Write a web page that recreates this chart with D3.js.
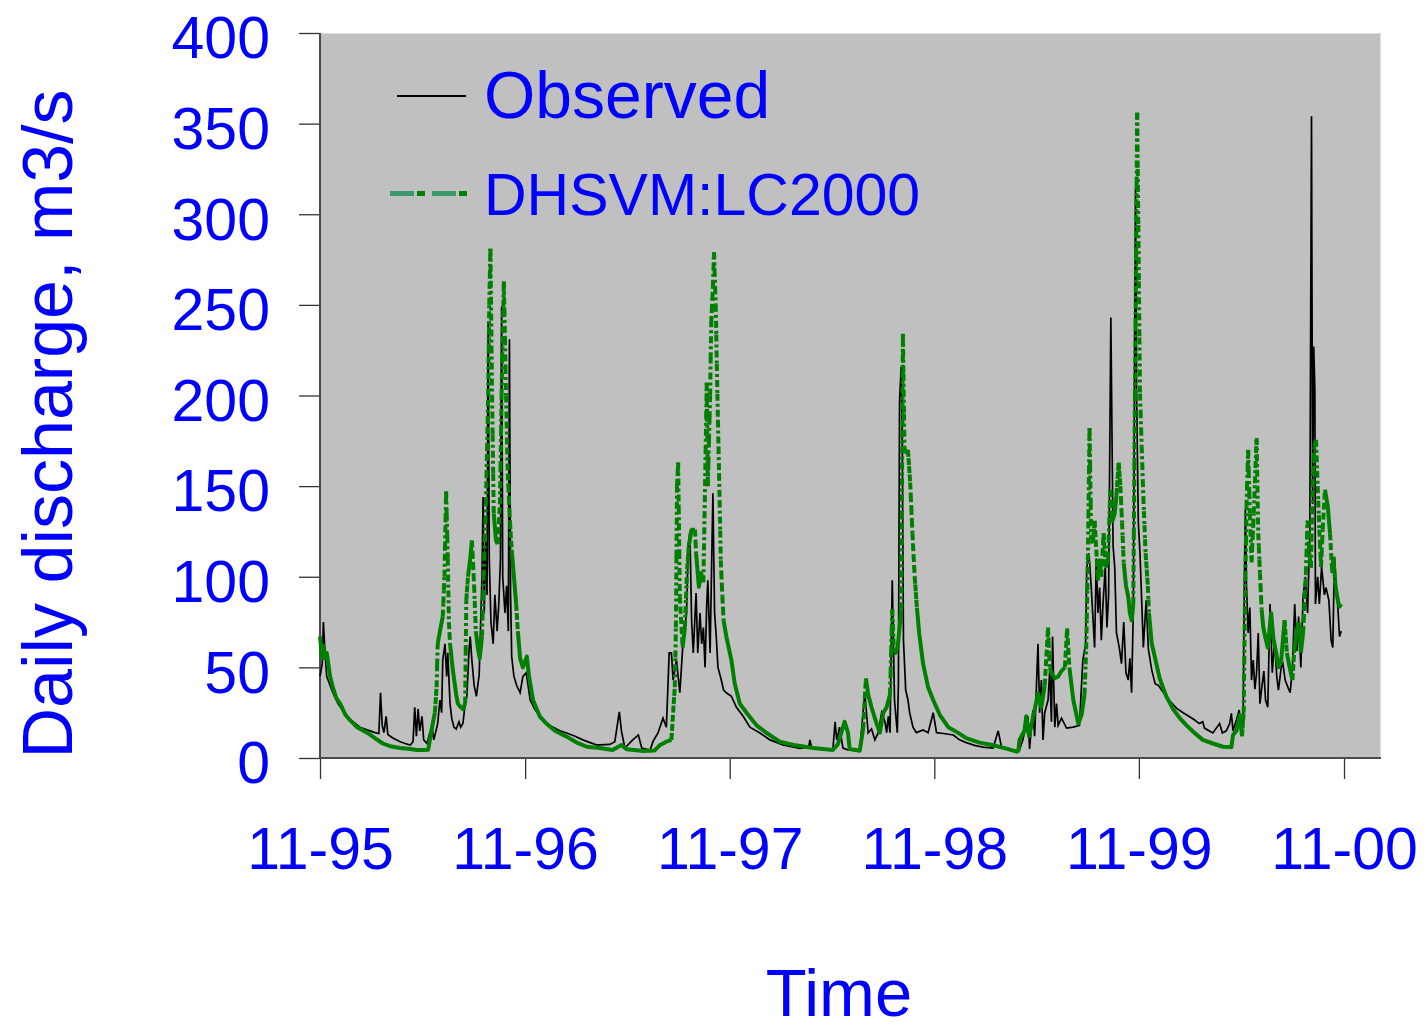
<!DOCTYPE html>
<html>
<head>
<meta charset="utf-8">
<script src="https://cdn.jsdelivr.net/npm/d3@7"></script>
<style>
  html, body { margin: 0; padding: 0; background: #ffffff; }
  svg { display: block; font-family: "Liberation Sans", Arial, sans-serif; }
</style>
</head>
<body>
<svg id="chart" width="1427" height="1032"></svg>
<script>
// Daily discharge, water years 1996-2000
const startDate = "1995-11-01";
const endDate = "2001-01-06";
const xTickDates = ["1995-11-01", "1996-11-01", "1997-11-01", "1998-11-01", "1999-11-01", "2000-11-01"];
const yTickValues = [0, 50, 100, 150, 200, 250, 300, 350, 400];
const seriesNames = ["Observed", "DHSVM:LC2000"];
const axisTitles = ["Time", "Daily discharge, m3/s"];

// [days since 1 Nov 1995, discharge in m3/s]
const observedFlow = [
  [0,45],[4,52],[6,75],[9,58],[12,45],[18,40],[23,36],[32,30],[41,26],[50,22],[59,20],[71,17],[84,15.5],[98,14],[105,13.5],[108,36],[111,18],[114,14],[118,23],[121,13],[130,11],[143,9],[152,8],[161,7.2],[166,9],[169,28],[172,12],[175,27],[178,15],[182,23],[185,10],[191,8],[196,14],[200,17],[203,10],[207,15],[210,19],[214,32],[217,25],[219,54],[223,63],[226,45],[228,58],[232,30],[235,22],[239,17],[243,16],[248,20],[251,17],[255,19],[259,30],[262,34],[266,60],[268,67],[271,54],[275,40],[279,34],[284,46],[286,67],[289,100],[291,144],[293,80],[296,120],[298,90],[300,241],[302,110],[305,75],[309,63],[312,90],[316,70],[319,85],[322,110],[324,249],[326,100],[330,80],[333,95],[336,70],[338,231],[340,90],[342,56],[346,45],[351,40],[357,36],[362,45],[368,47],[375,32],[383,27],[392,23],[403,19],[416,17],[428,15],[440,13.8],[455,12],[469,10],[482,8.5],[494,7.2],
  [499,7.2],[517,7.5],[526,9],[534,25.5],[538,14.5],[544,5.5],[558,10],[568,12.7],[574,5.5],[589,4.4],[594,9],[603,13.8],[612,22],[618,17],[623,58],[627,58],[630,43],[636,54],[642,36],[648,65],[654,80],[657,117],[660,125],[663,76],[666,58],[671,91],[674,58],[678,80],[681,63],[684,72],[687,50],[690,85],[692,98],[696,58],[697,76],[701,146],[704,80],[707,67],[710,50],[716,43],[720,37.5],[725,36],[734,34],[743,28],[755,23],[767,17],[785,13.8],[803,10],[826,7.2],[856,5.3],[872,6],[874,10],[877,6],[904,4.4],[915,4.4],[919,20],[922,10],[927,17],[933,5.5],[942,4.4],[963,4],[972,36],[978,13.8],[984,16],[990,10],[996,14],[1002,25],[1008,20],[1011,14],[1014,23],[1017,14],[1021,98],[1025,32],[1030,14],[1032,41],[1034,197],[1037,216],[1039,168],[1041,65],[1045,37.5],[1049,32],[1052,25],[1058,17],[1064,14],[1076,15.5],[1085,14],[1094,25],[1100,14],[1112,13.5],[1130,12.7],[1141,10],[1153,8.5],[1168,7],[1183,6],[1201,5.5],[1210,15],[1216,6],[1236,3.8],[1248,4.5],
  [1254,10],[1263,23],[1266,5],[1272,26.5],[1275,12],[1278,37.5],[1281,63],[1284,25],[1287,43],[1290,10],[1293,25],[1299,32],[1302,48.5],[1305,20],[1307,67],[1311,17],[1314,30],[1317,18],[1323,22],[1332,16.5],[1344,17],[1355,18],[1361,54],[1366,63],[1368,105],[1372,113],[1376,94.5],[1382,61],[1385,110],[1388,80],[1391,94],[1394,65],[1397,85],[1401,105],[1404,72],[1407,90],[1411,243],[1415,117],[1418,105],[1421,69],[1426,61],[1430,52],[1434,75],[1438,47],[1442,43],[1445,55],[1448,36],[1451,80],[1455,314],[1457,200],[1460,130],[1463,113],[1469,61],[1474,87],[1478,60],[1484,48.5],[1490,41],[1496,40],[1505,36],[1516,31.5],[1528,27.5],[1540,25],[1558,21.5],[1569,19],
  [1575,20],[1578,16.5],[1593,13.8],[1605,19],[1610,13.8],[1617,15],[1623,19],[1626,24.6],[1629,15],[1635,21],[1640,26.5],[1644,15],[1647,21],[1649,91],[1651,137],[1653,95],[1656,69],[1659,83],[1662,43],[1665,54],[1668,38],[1671,47],[1674,69],[1677,30],[1680,38],[1684,48],[1687,32],[1691,28],[1695,85],[1699,47],[1703,65],[1707,45],[1710,37.5],[1715,50],[1718,52],[1722,43],[1727,39],[1731,36],[1735,50],[1739,85],[1743,59],[1746,78],[1750,50],[1754,89],[1758,100],[1762,80],[1766,124],[1769,354],[1771,140],[1773,227],[1775,203],[1776,85],[1780,100],[1783,85],[1787,105.5],[1792,90],[1795,94],[1800,87],[1804,65],[1807,61],[1810,111],[1813,94],[1816,83],[1819,67],[1822,70]
];

const simulatedFlow = [
  [0,67],[4,55],[6,62],[9,55],[12,58],[18,45],[23,39],[29,33],[36,30],[45,24],[53,21],[66,17],[84,14],[98,11],[112,8],[125,6.5],[143,5.5],[161,5],[173,4.4],[187,4.4],[193,4.6],[196,10],[200,17],[205,25],[208,39],[210,63],[214,70],[219,78],[222,100],[225,147],[228,110],[230,75],[232,63],[237,48.5],[243,35],[246,30],[251,28],[255,27],[259,30],[261,87],[264,100],[268,110],[271,120],[275,95],[278,70],[282,60],[285,55],[289,67],[292,100],[296,140],[300,200],[302,250],[304,281],[307,200],[310,135],[314,120],[317,118],[321,140],[325,220],[328,263],[332,200],[335,157],[339,130],[342,115],[346,100],[350,85],[353,70],[357,55],[362,50],[369,56],[373,45],[380,32],[392,23],[404,19],[419,15],[440,11.8],[458,8.5],[476,6.2],[499,5.5],
  [522,4.4],[538,7.2],[547,4.8],[577,3.9],[597,4.2],[606,7],[618,9],[627,10],[630,25],[633,39],[635,72],[637,150],[639,163],[642,89],[647,61],[651,72],[655,104],[658,117],[663,126],[669,126],[671,113],[676,94.5],[680,102],[684,97],[687,150],[690,207],[692,150],[696,200],[698,240],[701,260],[703,279],[706,250],[709,201],[713,142],[715,109],[718,89],[720,76],[725,67],[734,54],[740,41],[749,30],[761,25],[779,18],[797,13.8],[820,9],[845,7.2],[880,5.5],[915,4.4],[924,7.6],[936,20],[942,14],[945,5],[963,4],[969,16],[974,44],[978,35],[984,28],[993,19],[999,14],[1005,25],[1011,28],[1017,35],[1021,82],[1024,58],[1027,58],[1031,62],[1037,82],[1040,234],[1043,168],[1049,170],[1053,152],[1057,124],[1061,100],[1065,83],[1069,69],[1076,52],[1085,39],[1094,32],[1106,23.7],[1121,17],[1138,14],[1153,11],[1177,8.5],[1201,7],[1225,5.2],[1243,3.5],[1246,4],
  [1248,10],[1257,15],[1260,23],[1265,12],[1269,18],[1275,26.5],[1281,35.7],[1287,28],[1293,40],[1299,72],[1302,50],[1305,47],[1311,44],[1317,45],[1323,48],[1329,50],[1333,71.5],[1337,50],[1344,32],[1353,19],[1359,24],[1364,35],[1367,60],[1370,109],[1373,182],[1376,120],[1379,118.6],[1382,131],[1385,115],[1388,98],[1391,110],[1394,100],[1398,124],[1402,105],[1406,110],[1410,148],[1413,130],[1418,135],[1421,145],[1425,163],[1428,150],[1431,130],[1434,107.5],[1438,95],[1442,89],[1445,80],[1448,76],[1451,85],[1454,200],[1458,356],[1463,201],[1466,172],[1469,144],[1473,113],[1477,95],[1479,80],[1484,63],[1490,55],[1498,44],[1510,34],[1522,27],[1534,22],[1546,18],[1558,14.5],[1575,10],[1593,8],[1611,6.2],[1626,6],[1629,12.7],[1635,15],[1641,23.7],[1645,12],[1648,25],[1650,80],[1653,138.6],[1656,170],[1659,135],[1662,108],[1666,135],[1671,176.5],[1674,124],[1677,102],[1680,82],[1683,72],[1687,66],[1691,61],[1697,80],[1701,66],[1706,58],[1710,50],[1715,54],[1721,76],[1725,58],[1730,50],[1735,43],[1738,58],[1742,69],[1746,75],[1750,58],[1754,69],[1759,102],[1762,131],[1765,113],[1768,105],[1771,150],[1774,172],[1777,175.5],[1780,150],[1783,126],[1786,105.5],[1789,126],[1793,148],[1798,139],[1802,124],[1806,102],[1808,111],[1812,94.5],[1816,87],[1819,83.5],[1822,85]
];

// ---- layout ----
const plot = { left: 320, top: 33, right: 1381, bottom: 758 };
const textBlue = "#0000ff";
const fontFamily = "'Liberation Sans', Arial, sans-serif";

const parseDay = d3.timeParse("%Y-%m-%d");
const t0 = parseDay(startDate);
const toDate = d => d3.timeDay.offset(t0, d);

const x = d3.scaleTime()
  .domain([t0, parseDay(endDate)])
  .range([plot.left, plot.right]);
const y = d3.scaleLinear()
  .domain([0, 400])
  .range([plot.bottom, plot.top]);

const svg = d3.select("#chart");

// plot area
svg.append("rect")
  .attr("x", plot.left).attr("y", plot.top)
  .attr("width", plot.right - plot.left).attr("height", plot.bottom - plot.top)
  .attr("fill", "#c0c0c0");
svg.append("path")
  .attr("d", `M${plot.left},${plot.top + 0.5}H${plot.right - 0.5}V${plot.bottom}`)
  .attr("fill", "none").attr("stroke", "#dedede").attr("stroke-width", 1);

// ---- axes ----
const yAxis = d3.axisLeft(y).tickValues(yTickValues).tickSize(21).tickSizeOuter(0).tickPadding(29);
const gy = svg.append("g").attr("transform", `translate(${plot.left},0)`).call(yAxis);
gy.select(".domain").remove();
gy.selectAll(".tick line").attr("stroke", "#333").attr("stroke-width", 1.3);
gy.selectAll(".tick text")
  .attr("fill", textBlue).attr("font-size", 59).attr("font-family", fontFamily)
  .attr("dy", "0.42em");

const xAxis = d3.axisBottom(x)
  .tickValues(xTickDates.map(parseDay))
  .tickFormat(d3.timeFormat("%m-%y"))
  .tickSize(21).tickSizeOuter(0).tickPadding(48);
const gx = svg.append("g").attr("transform", `translate(0,${plot.bottom})`).call(xAxis);
gx.select(".domain").remove();
gx.selectAll(".tick line").attr("stroke", "#333").attr("stroke-width", 1.3);
gx.selectAll(".tick text")
  .attr("fill", textBlue).attr("font-size", 59).attr("font-family", fontFamily);

// axis lines
svg.append("line")
  .attr("x1", plot.left).attr("x2", plot.left).attr("y1", plot.top).attr("y2", plot.bottom + 1)
  .attr("stroke", "#4a4a4a").attr("stroke-width", 2);
svg.append("line")
  .attr("x1", plot.left).attr("x2", plot.right).attr("y1", plot.bottom).attr("y2", plot.bottom)
  .attr("stroke", "#4a4a4a").attr("stroke-width", 2);

// ---- series ----
const line = d3.line().x(d => x(toDate(d[0]))).y(d => y(d[1]));

svg.append("path")
  .datum(observedFlow)
  .attr("d", line)
  .attr("fill", "none")
  .attr("stroke", "#000")
  .attr("stroke-width", 1.7)
  .attr("stroke-linejoin", "miter");

// Dash-dot pattern restarts every day: a day's step shorter than the first
// dash is drawn solid, longer steps show the pattern cut at that step length.
const dashPattern = [7, 3, 3, 3];
function dailyDash(stepLen) {
  if (stepLen <= dashPattern[0]) return null;
  const parts = [];
  let rem = stepLen, i = 0;
  while (rem > 1e-6) {
    const s = Math.min(dashPattern[i % dashPattern.length], rem);
    parts.push(s);
    rem -= s;
    i++;
  }
  if (parts.length % 2) parts.push(0);
  return parts.map(v => v.toFixed(2)).join(",");
}

const simColor = "#008000";
const simGroup = svg.append("g")
  .attr("fill", "none").attr("stroke", simColor).attr("stroke-width", 4);
let solidRun = [simulatedFlow[0]];
const flushSolid = () => {
  if (solidRun.length > 1) {
    simGroup.append("path").datum(solidRun).attr("d", line).attr("stroke-linejoin", "round");
  }
};
for (let i = 1; i < simulatedFlow.length; i++) {
  const a = simulatedFlow[i - 1], b = simulatedFlow[i];
  const xa = x(toDate(a[0])), ya = y(a[1]);
  const xb = x(toDate(b[0])), yb = y(b[1]);
  const len = Math.hypot(xb - xa, yb - ya);
  const dash = dailyDash(len / (b[0] - a[0]));
  if (dash === null) {
    solidRun.push(b);
  } else {
    flushSolid();
    simGroup.append("path").datum([a, b]).attr("d", line).attr("stroke-dasharray", dash);
    solidRun = [b];
  }
}
flushSolid();

// ---- legend ----
const legend = svg.append("g");
legend.append("line")
  .attr("x1", 397).attr("x2", 466).attr("y1", 96).attr("y2", 96)
  .attr("stroke", "#000").attr("stroke-width", 2);
legend.append("text")
  .attr("x", 484).attr("y", 118)
  .attr("fill", textBlue).attr("font-size", 66).attr("font-family", fontFamily)
  .text(seriesNames[0]);

legend.append("line")
  .attr("x1", 390).attr("x2", 468).attr("y1", 193.5).attr("y2", 193.5)
  .attr("stroke", "#3a9a6c").attr("stroke-width", 5)
  .attr("stroke-dasharray", "24,18");
legend.append("line")
  .attr("x1", 390).attr("x2", 468).attr("y1", 193.5).attr("y2", 193.5)
  .attr("stroke", simColor).attr("stroke-width", 5)
  .attr("stroke-dasharray", "0,27,8,7");
legend.append("text")
  .attr("x", 484).attr("y", 215)
  .attr("fill", textBlue).attr("font-size", 59).attr("font-family", fontFamily)
  .text(seriesNames[1]);

// ---- axis titles ----
svg.append("text")
  .attr("x", 839).attr("y", 1016)
  .attr("text-anchor", "middle")
  .attr("fill", textBlue).attr("font-size", 67).attr("font-family", fontFamily)
  .text(axisTitles[0]);
svg.append("text")
  .attr("transform", "translate(72,424) rotate(-90)")
  .attr("text-anchor", "middle")
  .attr("fill", textBlue).attr("font-size", 70).attr("font-family", fontFamily)
  .text(axisTitles[1]);
</script>
</body>
</html>
